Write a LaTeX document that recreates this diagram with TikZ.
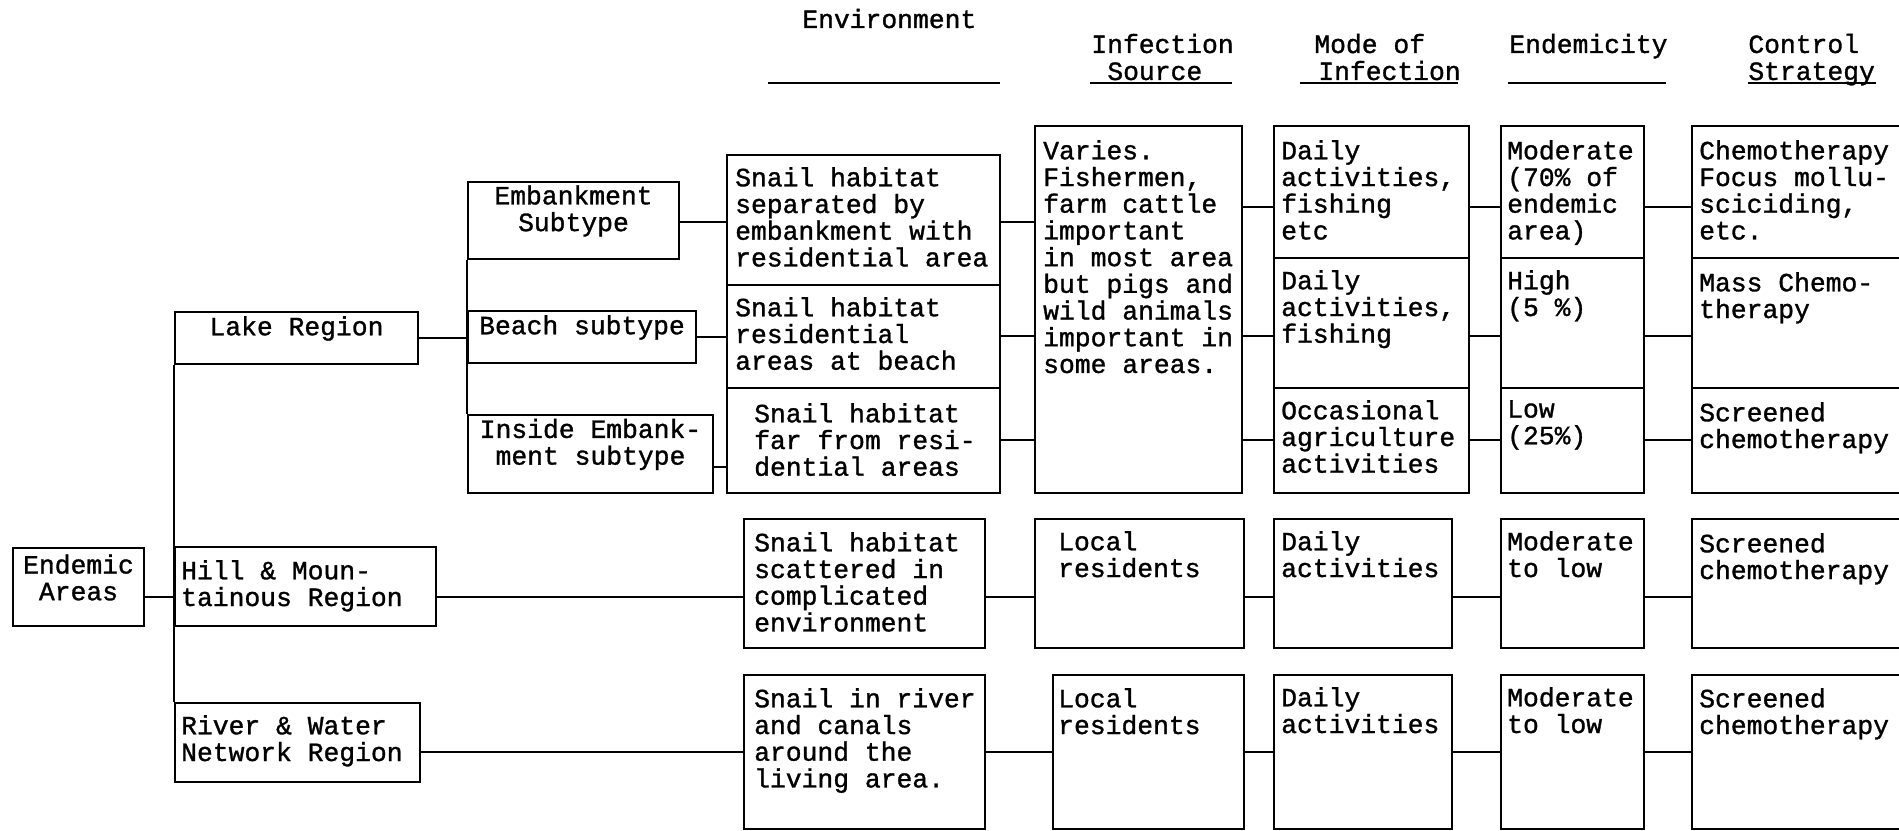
\documentclass[tikz,border=0pt]{standalone}
\usepackage{fontspec}
\setmonofont{Liberation Mono}[RawFeature={embolden=1.2}]
\usetikzlibrary{fit}

\tikzset{
  box/.style={draw, line width=1.3pt, inner sep=0pt, align=center},
  txt/.style={anchor=north west, align=left, inner sep=0pt},
  head/.style={anchor=base west, inner sep=0pt},
  link/.style={line width=1.3pt},
  rule/.style={line width=1pt},
}

\begin{document}
\begin{tikzpicture}[x=0.02cm, y=-0.02cm, font=\ttfamily\fontsize{15}{15.2}\selectfont]
  \useasboundingbox (0,0) rectangle (1899,831);

  % column heads
  \node[head] (h-env) at (802,28) {Environment};
  \node[head] (h-inf) at (1091,53) {Infection};
  \node[head] (h-src) at (1107,80) {Source};
  \node[head] (h-mode) at (1314,53) {Mode of};
  \node[head] (h-mode2) at (1318,80) {Infection};
  \node[head] (h-end) at (1509,53) {Endemicity};
  \node[head] (h-ctl) at (1748,53) {Control};
  \node[head] (h-ctl2) at (1748,80) {Strategy};
  \draw[rule] (768,83) -- (1000,83);
  \draw[rule] (1090,83) -- (1232,83);
  \draw[rule] (1300,83) -- (1458,83);
  \draw[rule] (1508,83) -- (1666,83);
  \draw[rule] (1748,83) -- (1876,83);

  % rows of the connectors
  \coordinate (r1) at (0,207);
  \coordinate (r1e) at (0,222);
  \coordinate (r2) at (0,336);
  \coordinate (r3) at (0,440);
  \coordinate (r3e) at (0,467);
  \coordinate (r4) at (0,597);
  \coordinate (r5) at (0,752);

  % areas, regions and subtypes
  \node[box, fit={(13,548) (144,626)}] (endemic) {Endemic\\Areas};
  \node[box, fit={(175,312) (418,364)}] (lake) {Lake Region};
  \node[box, fit={(175,547) (436,626)}] (hill) {};
  \node[box, fit={(175,703) (420,782)}] (river) {};
  \node[txt] (hill-t) at ([shift={(7,14)}]hill.north west) {Hill \& Moun-\\tainous Region};
  \node[txt] (river-t) at ([shift={(7,13)}]river.north west) {River \& Water\\Network Region};
  \node[box, fit={(468,182) (679,259)}] (emb) {Embankment\\Subtype};
  \node[box, fit={(468,311) (696,363)}] (beach) {Beach subtype};
  \node[box, fit={(468,415) (713,493)}] (inside) {Inside Embank-\\ment subtype};

  % environment
  \node[box, fit={(727,155) (1000,285)}] (env1) {};
  \node[box, fit={(727,285) (1000,388)}] (env2) {};
  \node[box, fit={(727,388) (1000,493)}] (env3) {};
  \node[box, fit={(744,519) (985,648)}] (env4) {};
  \node[box, fit={(744,675) (985,829)}] (env5) {};
  \node[txt] (env1-t) at ([shift={(9,13)}]env1.north west) {Snail habitat\\separated by\\embankment with\\residential area};
  \node[txt] (env2-t) at ([shift={(9,13)}]env2.north west) {Snail habitat\\residential\\areas at beach};
  \node[txt] (env3-t) at ([shift={(28,16)}]env3.north west) {Snail habitat\\far from resi-\\dential areas};
  \node[txt] (env4-t) at ([shift={(11,14)}]env4.north west) {Snail habitat\\scattered in\\complicated\\environment};
  \node[txt] (env5-t) at ([shift={(11,14)}]env5.north west) {Snail in river\\and canals\\around the\\living area.};

  % infection source
  \node[box, fit={(1035,126) (1242,493)}] (inf1) {};
  \node[box, fit={(1035,519) (1244,648)}] (inf4) {};
  \node[box, fit={(1053,675) (1244,829)}] (inf5) {};
  \node[txt] (inf1-t) at ([shift={(9,15)}]inf1.north west) {Varies.\\Fishermen,\\farm cattle\\important\\in most area\\but pigs and\\wild animals\\important in\\some areas.};
  \node[txt] (inf4-t) at ([shift={(24,13)}]inf4.north west) {Local\\residents};
  \node[txt] (inf5-t) at ([shift={(6,14)}]inf5.north west) {Local\\residents};

  % mode of infection
  \node[box, fit={(1274,126) (1469,258)}] (mode1) {};
  \node[box, fit={(1274,258) (1469,388)}] (mode2) {};
  \node[box, fit={(1274,388) (1469,493)}] (mode3) {};
  \node[box, fit={(1274,519) (1452,648)}] (mode4) {};
  \node[box, fit={(1274,675) (1452,829)}] (mode5) {};
  \node[txt] (mode1-t) at ([shift={(8,15)}]mode1.north west) {Daily\\activities,\\fishing\\etc};
  \node[txt] (mode2-t) at ([shift={(8,13)}]mode2.north west) {Daily\\activities,\\fishing};
  \node[txt] (mode3-t) at ([shift={(8,13)}]mode3.north west) {Occasional\\agriculture\\activities};
  \node[txt] (mode4-t) at ([shift={(8,13)}]mode4.north west) {Daily\\activities};
  \node[txt] (mode5-t) at ([shift={(8,13)}]mode5.north west) {Daily\\activities};

  % endemicity
  \node[box, fit={(1501,126) (1644,258)}] (end1) {};
  \node[box, fit={(1501,258) (1644,388)}] (end2) {};
  \node[box, fit={(1501,388) (1644,493)}] (end3) {};
  \node[box, fit={(1501,519) (1644,648)}] (end4) {};
  \node[box, fit={(1501,675) (1644,829)}] (end5) {};
  \node[txt] (end1-t) at ([shift={(7,15)}]end1.north west) {Moderate\\(70\% of\\endemic\\area)};
  \node[txt] (end2-t) at ([shift={(7,13)}]end2.north west) {High\\(5 \%)};
  \node[txt] (end3-t) at ([shift={(7,13)}]end3.north west) {Low\\(25\%)};
  \node[txt] (end4-t) at ([shift={(7,13)}]end4.north west) {Moderate\\to low};
  \node[txt] (end5-t) at ([shift={(7,13)}]end5.north west) {Moderate\\to low};

  % control strategy (runs off the right edge)
  \node[box, fit={(1692,126) (1912,258)}] (ctl1) {};
  \node[box, fit={(1692,258) (1912,388)}] (ctl2) {};
  \node[box, fit={(1692,388) (1912,493)}] (ctl3) {};
  \node[box, fit={(1692,519) (1912,648)}] (ctl4) {};
  \node[box, fit={(1692,675) (1912,829)}] (ctl5) {};
  \node[txt] (ctl1-t) at ([shift={(8,15)}]ctl1.north west) {Chemotherapy\\Focus mollu-\\sciciding,\\etc.};
  \node[txt] (ctl2-t) at ([shift={(8,15)}]ctl2.north west) {Mass Chemo-\\therapy};
  \node[txt] (ctl3-t) at ([shift={(8,15)}]ctl3.north west) {Screened\\chemotherapy};
  \node[txt] (ctl4-t) at ([shift={(8,15)}]ctl4.north west) {Screened\\chemotherapy};
  \node[txt] (ctl5-t) at ([shift={(8,14)}]ctl5.north west) {Screened\\chemotherapy};

  % tree on the left
  \draw[link] (lake.south west) -- (river.north west);
  \draw[link] (endemic.east |- r4) -- (hill.west |- r4);
  \draw[link] (lake.east) -- (beach.west |- lake.east);
  \draw[link] (emb.south west) -- (inside.north west);
  \draw[link] (emb.east |- r1e) -- (env1.west |- r1e);
  \draw[link] (beach.east) -- (env2.west |- beach.east);
  \draw[link] (inside.east |- r3e) -- (env3.west |- r3e);
  \draw[link] (hill.east |- r4) -- (env4.west |- r4);
  \draw[link] (river.east |- r5) -- (env5.west |- r5);

  % environment to infection source
  \draw[link] (env1.east |- r1e) -- (inf1.west |- r1e);
  \draw[link] (env2.east |- r2) -- (inf1.west |- r2);
  \draw[link] (env3.east |- r3) -- (inf1.west |- r3);
  \draw[link] (env4.east |- r4) -- (inf4.west |- r4);
  \draw[link] (env5.east |- r5) -- (inf5.west |- r5);

  % infection source to mode
  \draw[link] (inf1.east |- r1) -- (mode1.west |- r1);
  \draw[link] (inf1.east |- r2) -- (mode2.west |- r2);
  \draw[link] (inf1.east |- r3) -- (mode3.west |- r3);
  \draw[link] (inf4.east |- r4) -- (mode4.west |- r4);
  \draw[link] (inf5.east |- r5) -- (mode5.west |- r5);

  % mode to endemicity
  \draw[link] (mode1.east |- r1) -- (end1.west |- r1);
  \draw[link] (mode2.east |- r2) -- (end2.west |- r2);
  \draw[link] (mode3.east |- r3) -- (end3.west |- r3);
  \draw[link] (mode4.east |- r4) -- (end4.west |- r4);
  \draw[link] (mode5.east |- r5) -- (end5.west |- r5);

  % endemicity to control
  \draw[link] (end1.east |- r1) -- (ctl1.west |- r1);
  \draw[link] (end2.east |- r2) -- (ctl2.west |- r2);
  \draw[link] (end3.east |- r3) -- (ctl3.west |- r3);
  \draw[link] (end4.east |- r4) -- (ctl4.west |- r4);
  \draw[link] (end5.east |- r5) -- (ctl5.west |- r5);
\end{tikzpicture}
\end{document}
